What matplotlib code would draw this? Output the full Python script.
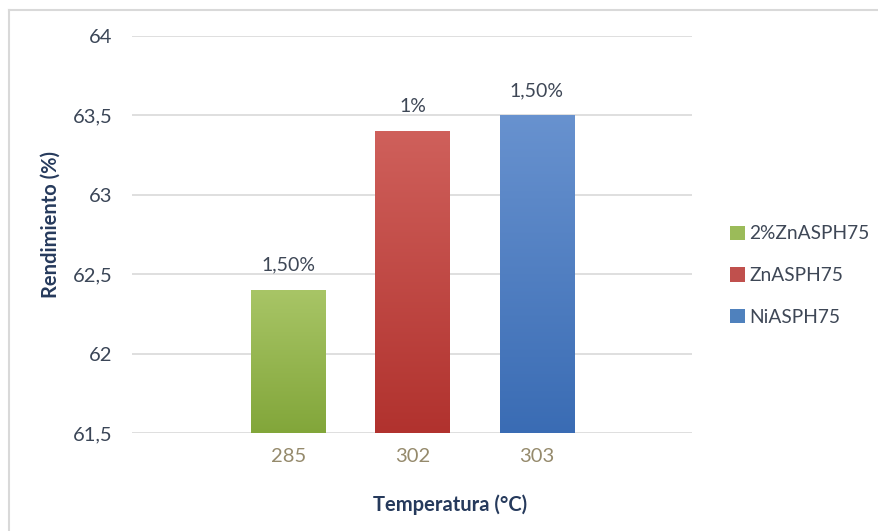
import matplotlib
matplotlib.use("Agg")
import matplotlib.pyplot as plt
import numpy as np
from matplotlib.colors import LinearSegmentedColormap
from matplotlib.patches import Patch
from matplotlib.lines import Line2D

# Data
categories = ["285", "302", "303"]
series_names = ["2%ZnASPH75", "ZnASPH75", "NiASPH75"]
values = [62.4, 63.4, 63.5]
value_labels = ["1,50%", "1%", "1,50%"]
y_ticks = [61.5, 62.0, 62.5, 63.0, 63.5, 64.0]
y_tick_labels = ["61,5", "62", "62,5", "63", "63,5", "64"]

# Gradient colours (top, bottom) and legend swatch colours
grad_colors = [("#a8c566", "#82a63a"), ("#cf605b", "#b1322e"), ("#6892cf", "#3a6cb4")]
swatch_colors = ["#9bbb59", "#c0504d", "#4f81bd"]

plt.rcParams["font.family"] = ["Lato", "DejaVu Sans"]

fig = plt.figure(figsize=(8.79, 5.31), dpi=100)
W, H = 879, 531
ax = fig.add_axes([132 / W, 1 - 433 / H, (692 - 132) / W, (433 - 36) / H])

x = np.arange(len(categories))
bar_w = 0.6
ymin, ymax = 61.5, 64.0
bars = ax.bar(x, values, width=bar_w, bottom=0, color="none", edgecolor="none", zorder=3)

grad = np.linspace(0, 1, 256).reshape(-1, 1)
for b, (ctop, cbot) in zip(bars, grad_colors):
    cmap = LinearSegmentedColormap.from_list("g", [cbot, ctop])
    x0 = b.get_x()
    x1 = x0 + b.get_width()
    top = b.get_height()
    im = ax.imshow(grad, cmap=cmap, origin="lower", aspect="auto",
                   extent=[x0, x1, ymin, top], zorder=3)
    im.set_clip_path(b)

for xi, v, lab in zip(x, values, value_labels):
    ax.annotate(lab, (xi, v), xytext=(0, 18), textcoords="offset points",
                ha="center", va="center", fontsize=14, color="#3e4756")

ax.set_xlim(-1.26, 3.25)
ax.set_ylim(ymin, ymax)
ax.set_yticks(y_ticks)
ax.set_yticklabels(y_tick_labels)
ax.set_xticks(x)
ax.set_xticklabels(categories)
ax.yaxis.grid(True, color="#d9d9d9", linewidth=1.2, zorder=0)
ax.set_axisbelow(True)
for s in ax.spines.values():
    s.set_visible(False)
ax.tick_params(axis="y", length=0, pad=14, labelsize=14.5, labelcolor="#3b4657")
ax.tick_params(axis="x", length=0, pad=11, labelsize=14.5, labelcolor="#958a6c")

fig.text(450 / W, 1 - 505 / H, "Temperatura (°C)", ha="center", va="center",
         fontsize=14.5, fontweight="bold", color="#263a5c")
fig.text(51 / W, 1 - 224 / H, "Rendimiento (%)", ha="center", va="center",
         rotation=90, fontsize=14.5, fontweight="bold", color="#263a5c")

handles = [Patch(facecolor=c, edgecolor="none") for c in swatch_colors]
leg = fig.legend(handles, series_names, loc="upper left",
                 bbox_to_anchor=(713 / W, 1 - 208 / H), frameon=False,
                 fontsize=13.8, handlelength=0.75, handleheight=0.75,
                 handletextpad=0.25, labelspacing=1.3, labelcolor="#3e4756")

# Chart area border (left and top edges)
fig.add_artist(Line2D([9 / W, 9 / W], [0, 1 - 10 / H], transform=fig.transFigure,
                      color="#d9d9d9", linewidth=1.5))
fig.add_artist(Line2D([9 / W, 1], [1 - 10 / H, 1 - 10 / H], transform=fig.transFigure,
                      color="#d9d9d9", linewidth=1.5))

fig.savefig("out.png", dpi=100)
